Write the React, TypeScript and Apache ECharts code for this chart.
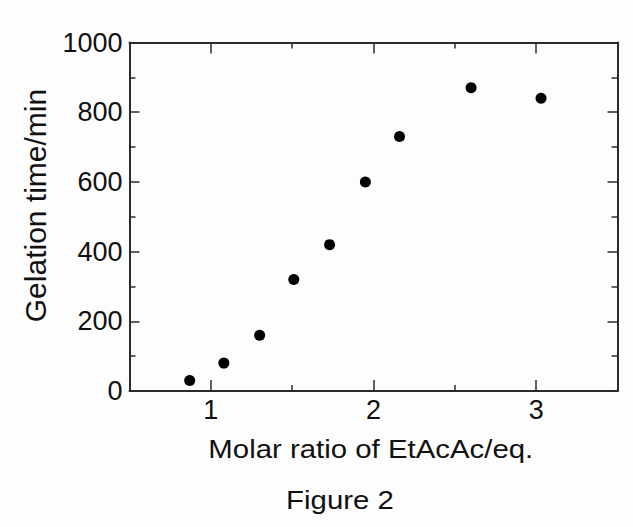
import React, { useEffect, useRef } from "react";
import * as echarts from "echarts";

const molarRatio = [0.87, 1.08, 1.3, 1.51, 1.73, 1.95, 2.16, 2.6, 3.03];
const gelationTime = [30, 80, 160, 320, 420, 600, 730, 870, 840];
const xMajorTicks = [1, 2, 3];
const xMinorTicks = [1.5, 2.5];
const xName = "Molar ratio of EtAcAc/eq.";
const yName = "Gelation time/min";
const figureTitle = "Figure 2";

const FONT = "'Liberation Sans', Arial, sans-serif";
const AXIS_COLOR = "#2b2b2b";
const TEXT_COLOR = "#111111";

export default function App() {
  const ref = useRef<HTMLDivElement>(null);

  useEffect(() => {
    if (!ref.current) return;
    const chart = echarts.init(ref.current, undefined, { renderer: "svg" });
    const gridPos = { left: 129.5, right: 15.5, top: 42.5, bottom: 136, containLabel: false };
    const lineStyle = { color: AXIS_COLOR, width: 2 };
    const tickStyle = { color: AXIS_COLOR, width: 1.5 };
    const baseX = {
      type: "value" as const,
      min: 0.5,
      max: 3.5,
      splitLine: { show: false },
    };
    const option: any = {
      animation: false,
      backgroundColor: "#fdfdfd",
      grid: [gridPos, gridPos],
      xAxis: [
        {
          ...baseX,
          gridIndex: 0,
          position: "bottom",
          axisLine: { show: true, onZero: false, lineStyle },
          axisTick: { show: true, inside: true, length: 11, customValues: xMajorTicks, lineStyle: tickStyle },
          axisLabel: {
            show: true,
            customValues: xMajorTicks,
            margin: 5,
            fontSize: 27,
            fontFamily: FONT,
            color: TEXT_COLOR,
            formatter: (v: number) => String(v),
          },
        },
        {
          ...baseX,
          gridIndex: 0,
          position: "top",
          axisLine: { show: true, onZero: false, lineStyle },
          axisTick: { show: true, inside: true, length: 11, customValues: xMajorTicks, lineStyle: tickStyle },
          axisLabel: { show: false },
        },
        {
          ...baseX,
          gridIndex: 1,
          position: "bottom",
          axisLine: { show: false, onZero: false },
          axisTick: { show: true, inside: true, length: 6, customValues: xMinorTicks, lineStyle: tickStyle },
          axisLabel: { show: false },
        },
        {
          ...baseX,
          gridIndex: 1,
          position: "top",
          axisLine: { show: false, onZero: false },
          axisTick: { show: true, inside: true, length: 6, customValues: xMinorTicks, lineStyle: tickStyle },
          axisLabel: { show: false },
        },
      ],
      yAxis: [
        {
          type: "value",
          gridIndex: 0,
          position: "left",
          min: 0,
          max: 1000,
          interval: 200,
          splitLine: { show: false },
          axisLine: { show: true, onZero: false, lineStyle },
          axisTick: { show: true, inside: true, length: 10, lineStyle: tickStyle },
          minorTick: { show: true, splitNumber: 2, length: 6, lineStyle: tickStyle },
          axisLabel: {
            margin: 7,
            fontSize: 27,
            fontFamily: FONT,
            color: TEXT_COLOR,
            formatter: (v: number) => String(v),
          },
        },
        {
          type: "value",
          gridIndex: 0,
          position: "right",
          min: 0,
          max: 1000,
          interval: 200,
          splitLine: { show: false },
          axisLine: { show: true, onZero: false, lineStyle },
          axisTick: { show: true, inside: true, length: 10, lineStyle: tickStyle },
          minorTick: { show: true, splitNumber: 2, length: 6, lineStyle: tickStyle },
          axisLabel: { show: false },
        },
        {
          type: "value",
          gridIndex: 1,
          min: 0,
          max: 1000,
          show: false,
        },
      ],
      series: [
        {
          type: "scatter",
          xAxisIndex: 0,
          yAxisIndex: 0,
          symbol: "circle",
          symbolSize: 11,
          itemStyle: { color: "#000000", opacity: 1 },
          data: molarRatio.map((x, i) => [x, gelationTime[i]]),
        },
      ],
      graphic: [
        {
          type: "text",
          x: 35,
          y: 205.5,
          rotation: Math.PI / 2,
          style: {
            text: yName,
            fontSize: 30,
            fontFamily: FONT,
            fill: TEXT_COLOR,
            textAlign: "center",
            textVerticalAlign: "middle",
          },
        },
        {
          type: "text",
          x: 370.8,
          y: 449,
          scaleX: 1.13,
          style: {
            text: xName,
            fontSize: 26,
            fontFamily: FONT,
            fill: TEXT_COLOR,
            textAlign: "center",
            textVerticalAlign: "middle",
          },
        },
        {
          type: "text",
          x: 340,
          y: 500.5,
          scaleX: 1.13,
          style: {
            text: figureTitle,
            fontSize: 26,
            fontFamily: FONT,
            fill: TEXT_COLOR,
            textAlign: "center",
            textVerticalAlign: "middle",
          },
        },
      ],
    };
    chart.setOption(option);
    return () => chart.dispose();
  }, []);

  return (
    <div
      ref={ref}
      style={{ position: "fixed", left: 0, top: 0, width: 633, height: 527 }}
    />
  );
}
